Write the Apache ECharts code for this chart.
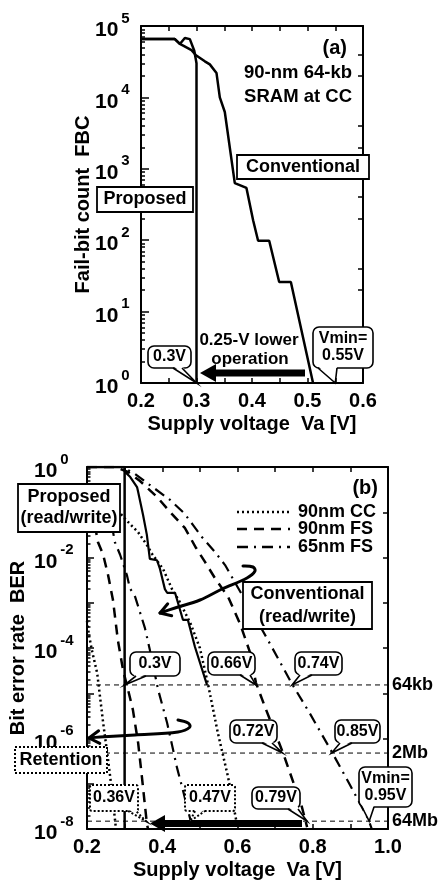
<!DOCTYPE html>
<html><head><meta charset="utf-8">
<script src="https://cdn.jsdelivr.net/npm/echarts@6/dist/echarts.min.js"></script>
<style>html,body{margin:0;padding:0;background:#fff}#c{width:441px;height:880px}</style>
</head><body><div id="c"></div>
<script>
// ---------- Panel (a): 90-nm 64-kb SRAM at CC, fail-bit count ----------
const aPropV   = [0.2, 0.261, 0.27, 0.279, 0.288, 0.296, 0.300, 0.300];
const aPropFBC = [65536, 65536, 56000, 68000, 65536, 45000, 30000, 1];
const aConvV   = [0.2, 0.261, 0.27, 0.276, 0.291, 0.299, 0.315, 0.324, 0.336, 0.342, 0.351, 0.369, 0.39, 0.402, 0.411, 0.431, 0.449, 0.47, 0.51];
const aConvFBC = [65536, 65536, 56000, 53000, 46000, 39000, 32000, 29000, 22000, 10000, 6250, 630, 540, 190, 98, 98, 26, 26, 1];
const aYMajor  = [1, 10, 100, 1000, 10000, 100000];

// ---------- Panel (b): bit error rate ----------
const bPropV   = [0.2, 0.3, 0.3];
const bPropBER = [1, 1, 1e-8];
const bConvV   = [0.2, 0.3, 0.301, 0.315, 0.333, 0.336, 0.349, 0.359, 0.367, 0.386, 0.394, 0.407, 0.413, 0.434, 0.455, 0.468, 0.487, 0.519];
const bConvBER = [1, 1, 0.78, 0.6, 0.36, 0.28, 0.087, 0.032, 9.3e-3, 8.7e-3, 5.6e-3, 2.0e-3, 1.66e-3, 1.66e-3, 4.2e-4, 4.2e-4, 1.05e-4, 1.53e-5];
const bCC_V    = [0.25, 0.296, 0.336, 0.359, 0.373, 0.402, 0.426, 0.445, 0.475, 0.50, 0.522, 0.548, 0.575, 0.60];
const bCC_BER  = [0.25, 0.079, 0.036, 0.019, 0.012, 5.6e-3, 2.0e-3, 1.1e-3, 3.5e-4, 1.0e-4, 1.53e-5, 1.3e-6, 1.4e-7, 1.1e-8];
const bFS90_V   = [0.2, 0.274, 0.309, 0.341, 0.386, 0.426, 0.460, 0.490, 0.514, 0.540, 0.575, 0.607, 0.633, 0.649, 0.673, 0.721, 0.740, 0.771, 0.785];
const bFS90_BER = [1, 1, 0.776, 0.49, 0.218, 0.091, 0.045, 0.0162, 7.9e-3, 3.5e-3, 1.35e-3, 3.4e-4, 8.1e-5, 1.7e-5, 5.0e-6, 4.8e-7, 1.7e-7, 3.1e-8, 1.1e-8];
const bFS65_V   = [0.2, 0.293, 0.328, 0.367, 0.421, 0.458, 0.482, 0.506, 0.540, 0.567, 0.620, 0.678, 0.745, 0.793, 0.851, 0.899, 0.947, 0.957];
const bFS65_BER = [1, 1, 0.70, 0.40, 0.187, 0.096, 0.052, 0.028, 0.0133, 6.8e-3, 1.15e-3, 1.66e-4, 1.6e-5, 3.5e-6, 5e-7, 9.4e-8, 1.7e-8, 1e-8];
// retention curves
const bRetCC_V    = [0.2, 0.205, 0.213, 0.227, 0.243, 0.256, 0.266, 0.277];
const bRetCC_BER  = [4e-4, 2e-4, 8.9e-5, 2.8e-5, 2.2e-6, 3.4e-7, 7.2e-8, 1e-8];
const bRetFS90_V   = [0.221, 0.229, 0.243, 0.256, 0.269, 0.282, 0.296, 0.309, 0.322, 0.336, 0.346, 0.359, 0.362];
const bRetFS90_BER = [0.052, 0.022, 0.0115, 4.1e-3, 1.15e-3, 1.5e-4, 3.2e-5, 1.2e-5, 4.3e-6, 7.9e-7, 1.4e-7, 1.35e-8, 1e-8];
const bRetFS65_V   = [0.266, 0.274, 0.288, 0.306, 0.314, 0.328, 0.354, 0.367, 0.389, 0.413, 0.426, 0.439, 0.455, 0.474, 0.482];
const bRetFS65_BER = [0.052, 0.022, 0.0115, 4.1e-3, 2.1e-3, 1.35e-3, 2.75e-4, 9.1e-5, 1.2e-5, 2.2e-6, 7.2e-7, 2.3e-7, 7.2e-8, 1.7e-8, 1e-8];
const bYMajor  = [1, 1e-1, 1e-2, 1e-3, 1e-4, 1e-5, 1e-6, 1e-7, 1e-8];
const bYLabels = [1, 1e-2, 1e-4, 1e-6, 1e-8];
const bXRange  = [0.2, 1.0];
const bLevels      = [1 / 65536, 1 / 2097152, 1 / 67108864];
const bLevelLabels = ['64kb', '2Mb', '64Mb'];
const legendNames  = ['90nm CC', '90nm FS', '65nm FS'];

// ---------- helpers ----------
const F = '"Liberation Sans", Arial, Helvetica, sans-serif';
const zip = (xs, ys) => xs.map((x, i) => [x, ys[i]]);
function minorOf(majors) {
  const out = [];
  majors.forEach(m => { for (let k = 2; k <= 9; k++) out.push(m * k); });
  return out;
}
const aMinor = minorOf(aYMajor.slice(0, -1));
const bMinor = minorOf(bYMajor.slice(1));
const aRight = [];
aYMajor.slice(0, -1).forEach(m => { aRight.push(m * 2, m * 4); });

const black = '#000';
const lineAx = { show: true, onZero: false, lineStyle: { color: black, width: 2 } };
const lbl = { fontSize: 20, fontWeight: 'bold', fontFamily: F, color: black };
const nameStyle = { fontSize: 20, fontWeight: 'bold', fontFamily: F, color: black };
const rich = {
  b: { fontSize: 21, fontWeight: 'bold', fontFamily: F, color: black, lineHeight: 30, verticalAlign: 'bottom' },
  s: { fontSize: 15, fontWeight: 'bold', fontFamily: F, color: black, lineHeight: 12, verticalAlign: 'top', padding: [0, 0, 0, 3] }
};
const powLabel = v => '{b|10}{s|' + Math.round(Math.log10(v)) + '}';
const near = (v, step) => Math.abs(v / step - Math.round(v / step)) < 1e-6;

function xAx(grid, min, max, interval, labelStep, pos, name) {
  return {
    gridIndex: grid, type: 'value', min, max, interval, position: pos,
    axisLine: lineAx,
    axisTick: { show: true, inside: true, length: 5, lineStyle: { color: black, width: 1.5 } },
    axisLabel: pos === 'bottom' ? Object.assign({ margin: 8, formatter: v => near(v, labelStep) ? v.toFixed(1) : '' }, lbl) : { show: false },
    splitLine: { show: false },
    name: pos === 'bottom' ? name : '', nameLocation: 'middle', nameGap: 31, nameMoveOverlap: false, nameTextStyle: nameStyle
  };
}
function logAx(grid, min, max, pos, tickVals, tickLen, extra) {
  return Object.assign({
    gridIndex: grid, type: 'log', logBase: 10, min, max, position: pos,
    axisLine: lineAx,
    axisTick: { show: true, inside: true, length: tickLen, customValues: tickVals, lineStyle: { color: black, width: 1.5 } },
    axisLabel: { show: false },
    splitLine: { show: false }, minorTick: { show: false }
  }, extra || {});
}

const lineSeries = (name, data, xi, yi, type, width) => ({
  name, type: 'line', data, xAxisIndex: xi, yAxisIndex: yi, showSymbol: false, symbol: 'none',
  lineStyle: { color: black, width: width || 2.5, type: type || 'solid' }, z: 3, animation: false
});

const levelSeries = bLevels.map((L, i) => Object.assign(
  lineSeries(bLevelLabels[i] + ' level', bXRange.map(x => [x, L]), 2, 3, [5, 4], 1), { z: 2 }));

const option = {
  backgroundColor: '#fff',
  animation: false,
  grid: [
    { left: 141, top: 26, width: 222, height: 357, containLabel: false, outerBoundsMode: 'none' },
    { left: 87, top: 467, width: 301, height: 362, containLabel: false, outerBoundsMode: 'none' }
  ],
  xAxis: [
    xAx(0, 0.2, 0.6, 0.05, 0.1, 'bottom', 'Supply voltage  Va [V]'),
    xAx(0, 0.2, 0.6, 0.05, 0.1, 'top'),
    xAx(1, 0.2, 1.0, 0.1, 0.2, 'bottom', 'Supply voltage  Va [V]'),
    xAx(1, 0.2, 1.0, 0.1, 0.2, 'top')
  ],
  yAxis: [
    logAx(0, 1, 1e5, 'left', aYMajor, 8, {
      axisLabel: { show: true, customValues: aYMajor, formatter: powLabel, rich, align: 'left', margin: 46 },
      name: 'Fail-bit count  FBC', nameLocation: 'middle', nameGap: 48, nameMoveOverlap: false, nameRotate: 90, nameTextStyle: nameStyle }),
    logAx(0, 1, 1e5, 'left', aMinor, 4, { axisLine: { show: false } }),
    logAx(0, 1, 1e5, 'right', aRight, 5),
    logAx(1, 1e-8, 1, 'left', bYMajor, 7, {
      axisLabel: { show: true, customValues: bYLabels, formatter: powLabel, rich, align: 'left', margin: 53 },
      name: 'Bit error rate  BER', nameLocation: 'middle', nameGap: 59, nameMoveOverlap: false, nameRotate: 90, nameTextStyle: nameStyle }),
    logAx(1, 1e-8, 1, 'left', bMinor, 3.5, { axisLine: { show: false } }),
    logAx(1, 1e-8, 1, 'right', bYMajor, 5, {
      axisLabel: { show: true, customValues: bLevels, margin: 4, align: 'left',
        formatter: v => { let bi = 0; bLevels.forEach((L, i) => { if (Math.abs(Math.log10(L) - Math.log10(v)) < Math.abs(Math.log10(bLevels[bi]) - Math.log10(v))) bi = i; }); return bLevelLabels[bi]; },
        fontSize: 18, fontWeight: 'bold', fontFamily: F, color: black } })
  ],
  series: [
    lineSeries('Proposed', zip(aPropV, aPropFBC), 0, 0, 'solid', 2.5),
    lineSeries('Conventional', zip(aConvV, aConvFBC), 0, 0, 'solid', 2.5),
    ...levelSeries,
    lineSeries('Proposed (read/write)', zip(bPropV, bPropBER), 2, 3, 'solid', 2.5),
    lineSeries('Conventional (read/write)', zip(bConvV, bConvBER), 2, 3, 'solid', 2.2),
    lineSeries(legendNames[0], zip(bCC_V, bCC_BER), 2, 3, [2, 3], 2.5),
    lineSeries(legendNames[1], zip(bFS90_V, bFS90_BER), 2, 3, [10, 7], 2.5),
    lineSeries(legendNames[2], zip(bFS65_V, bFS65_BER), 2, 3, [11, 6, 2, 6], 2.2),
    lineSeries('Retention ' + legendNames[0], zip(bRetCC_V, bRetCC_BER), 2, 3, [2, 3], 2.5),
    lineSeries('Retention ' + legendNames[1], zip(bRetFS90_V, bRetFS90_BER), 2, 3, [10, 7], 2.5),
    lineSeries('Retention ' + legendNames[2], zip(bRetFS65_V, bRetFS65_BER), 2, 3, [11, 6, 2, 6], 2.2)
  ]
};

const chart = echarts.init(document.getElementById('c'), null, { renderer: 'canvas', width: 441, height: 880 });
chart.setOption(option);

// ---------- annotations ----------
const pA = (v, y) => chart.convertToPixel({ xAxisIndex: 0, yAxisIndex: 0 }, [v, y]);
const pB = (v, y) => chart.convertToPixel({ xAxisIndex: 2, yAxisIndex: 3 }, [v, y]);

function txt(x, y, t, size, align) {
  return { type: 'text', z: 103, x, y, style: { text: t, font: 'bold ' + size + 'px ' + F, fill: black, align: align || 'center', verticalAlign: 'middle' } };
}
function box(x, y, w, h, lines, size, dotted, lh) {
  const els = [{ type: 'rect', z: 100, shape: { x, y, width: w, height: h }, style: { fill: '#fff', stroke: black, lineWidth: dotted ? 2 : 1.8, lineDash: dotted ? [2, 2] : null } }];
  lines.forEach((t, i) => els.push(txt(x + w / 2, y + h / 2 + (i - (lines.length - 1) / 2) * (lh || 21), t, size)));
  return els;
}
function bubble(x, y, w, h, t1, t2, tip, lines, dotted) {
  const dash = dotted ? [2, 2] : null;
  const lw = dotted ? 2 : 1.6;
  const els = [
    { type: 'rect', z: 100, shape: { x, y, width: w, height: h, r: dotted ? 2 : 6 }, style: { fill: '#fff', stroke: black, lineWidth: lw, lineDash: dash } },
    { type: 'polygon', z: 101, shape: { points: [[t1, y + h - 2], [t2, y + h - 2], tip] }, style: { fill: '#fff' } },
    { type: 'polyline', z: 102, shape: { points: [[t1, y + h], tip, [t2, y + h]] }, style: { stroke: black, lineWidth: lw, lineDash: dash, fill: null } }
  ];
  lines.forEach((t, i) => els.push(txt(x + w / 2, y + h / 2 + (i - (lines.length - 1) / 2) * 17, t, 16)));
  return els;
}
function bigArrow(xTip, xTail, yc, half, headLen, headHalf) {
  return { type: 'polygon', z: 95, shape: { points: [[xTip, yc], [xTip + headLen, yc - headHalf], [xTip + headLen, yc - half], [xTail, yc - half], [xTail, yc + half], [xTip + headLen, yc + half], [xTip + headLen, yc + headHalf]] }, style: { fill: black } };
}
function hook(points, lw) {
  const n = points.length, [x2, y2] = points[n - 1], [x1, y1] = points[n - 2];
  const ang = Math.atan2(y2 - y1, x2 - x1), L = 12, A = 0.55;
  const w1 = [x2 - L * Math.cos(ang - A), y2 - L * Math.sin(ang - A)];
  const w2 = [x2 - L * Math.cos(ang + A), y2 - L * Math.sin(ang + A)];
  return [
    { type: 'polyline', z: 90, shape: { points, smooth: 0.35 }, style: { stroke: black, lineWidth: lw, fill: null, lineCap: 'round' } },
    { type: 'polyline', z: 90, shape: { points: [w1, [x2, y2], w2] }, style: { stroke: black, lineWidth: lw, fill: null, lineCap: 'round', lineJoin: 'round' } }
  ];
}

const g = [];
// panel (a)
g.push(txt(347, 48, '(a)', 20, 'right'));
g.push(txt(352, 73, '90-nm 64-kb', 18.5, 'right'));
g.push(txt(352, 97, 'SRAM at CC', 18.5, 'right'));
g.push(...box(237, 155, 132, 24, ['Conventional'], 18));
g.push(...box(97, 187, 96, 25, ['Proposed'], 18));
g.push(...bubble(148, 346, 43, 22, 173, 182, pA(0.3, 1), ['0.3V']));
g.push(...bubble(313, 327, 60, 41, 318, 337, pA(0.55, 1), ['Vmin=', '0.55V']));
g.push(txt(249, 340, '0.25-V lower', 17));
g.push(txt(250, 359, 'operation', 17));
g.push(bigArrow(200, 305, 373, 3.5, 16, 9));
// panel (b)
g.push(txt(378, 488, '(b)', 20, 'right'));
const legY = [512, 529, 547];
const legDash = [[2, 3], [10, 7], [11, 6, 2, 6]];
legendNames.forEach((nm, i) => {
  g.push({ type: 'line', z: 100, shape: { x1: 237, y1: legY[i], x2: 290, y2: legY[i] }, style: { stroke: black, lineWidth: 2.5, lineDash: legDash[i] } });
  g.push(txt(298, legY[i], nm, 18, 'left'));
});
g.push(...box(18, 484, 102, 48, ['Proposed', '(read/write)'], 18));
g.push(...box(243, 582, 129, 47, ['Conventional', '(read/write)'], 18, false, 23));
g.push(...box(15, 747, 92, 26, ['Retention'], 18, true));
g.push(...bubble(130, 652, 50, 24, 136, 146, pB(0.3, bLevels[0]), ['0.3V']));
g.push(...bubble(208, 652, 47, 23, 240, 250, pB(0.649, bLevels[0]), ['0.66V']));
g.push(...bubble(295, 652, 47, 23, 300, 312, pB(0.745, bLevels[0]), ['0.74V']));
g.push(...bubble(230, 720, 47, 23, 262, 272, pB(0.72, bLevels[1]), ['0.72V']));
g.push(...bubble(335, 720, 45, 23, 340, 352, pB(0.85, bLevels[1]), ['0.85V']));
g.push(...bubble(252, 787, 48, 22, 288, 298, pB(0.785, bLevels[2]), ['0.79V']));
g.push(...bubble(359, 767, 53, 40, 362, 374, pB(0.95, bLevels[2]), ['Vmin=', '0.95V']));
g.push(...bubble(90, 785, 48, 26, 128, 136, pB(0.357, bLevels[2]), ['0.36V'], true));
g.push(...bubble(185, 785, 50, 26, 195, 205, pB(0.474, bLevels[2]), ['0.47V'], true));
g.push(bigArrow(150, 302, 823.5, 3.5, 15, 8.5));
g.push(...hook([[243, 566], [253, 567], [255, 571], [247, 578], [222, 589], [200, 600], [175, 608], [160, 613]], 3));
g.push(...hook([[178, 720], [188, 723], [190, 727], [178, 732], [135, 735], [100, 737], [89, 738]], 3));

chart.setOption({ graphic: { elements: g } });
</script></body></html>
